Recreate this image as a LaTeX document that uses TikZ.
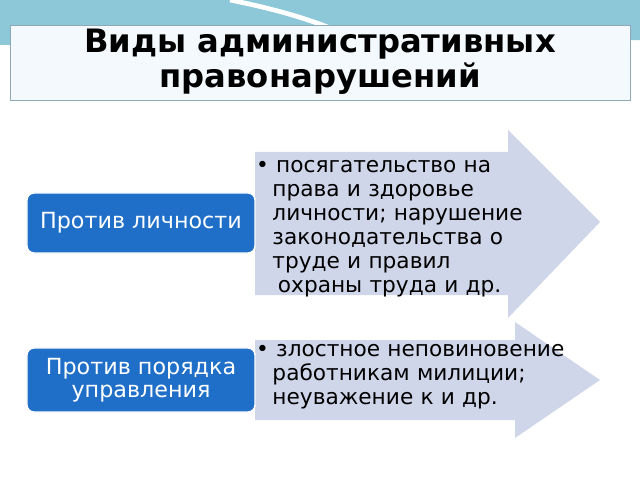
\documentclass[tikz,border=0pt]{standalone}
\usepackage{fontspec}
\setmainfont{DejaVu Sans}
\usetikzlibrary{positioning}
\definecolor{topteal}{HTML}{8CC8D8}
\definecolor{titlefill}{HTML}{F4F9FE}
\definecolor{titleline}{HTML}{8FA8B8}
\definecolor{arrowfill}{HTML}{D0D6EA}
\definecolor{boxblue}{HTML}{1F6FC8}
\tikzset{
	kindbox/.style={draw=white,line width=1.2pt,fill=boxblue,rounded corners=6pt,text=white,font=\fontsize{19pt}{20pt}\selectfont,align=center,minimum width=6.84cm},
	itemtext/.style={anchor=north west,align=left,font=\fontsize{18.5pt}{20.5pt}\selectfont,text width=9.5cm,inner sep=0pt}
}
\begin{document}
\begin{tikzpicture}[x=0.03cm,y=-0.03cm]
\useasboundingbox (0,0) rectangle (640,480);
\fill[white] (0,0) rectangle (640,480);
% top band
\fill[topteal] (0,0) -- (640,0) -- (640,40) -- (0,45) -- cycle;
\draw[white,line width=4pt] (230,0) .. controls (280,10) and (310,20) .. (330,28);
%
\draw[titleline,fill=titlefill] (10,25) rectangle (630,100);
\node[font=\bfseries\fontsize{27.5pt}{30pt}\selectfont,align=center] (title) at (320,62) {Виды административных\\правонарушений};
%
\fill[arrowfill] (255,152) -- (508,152) -- (508,130) -- (600,222) -- (508,318) -- (508,295) -- (255,295) -- cycle;
\fill[arrowfill] (255,340) -- (515,340) -- (515,322) -- (600,380) -- (515,438) -- (515,420) -- (255,420) -- cycle;
%
\node[kindbox,minimum height=1.8cm] (person) at (141,223) {Против личности};
\node[kindbox,minimum height=1.92cm] (order) at (141,380) {Против порядка\\управления};
%
\node[itemtext] (rights) at (256,160) {\textbullet\ посягательство на\\\hspace*{0.75em}права и здоровье\\\hspace*{0.75em}личности; нарушение\\\hspace*{0.75em}законодательства о\\\hspace*{0.75em}труде и правил\\\hspace*{1em}охраны труда и др.};
\node[itemtext] (police) at (256,344) {\textbullet\ злостное неповиновение\\\hspace*{0.75em}работникам милиции;\\\hspace*{0.75em}неуважение к и др.};
\end{tikzpicture}
\end{document}
